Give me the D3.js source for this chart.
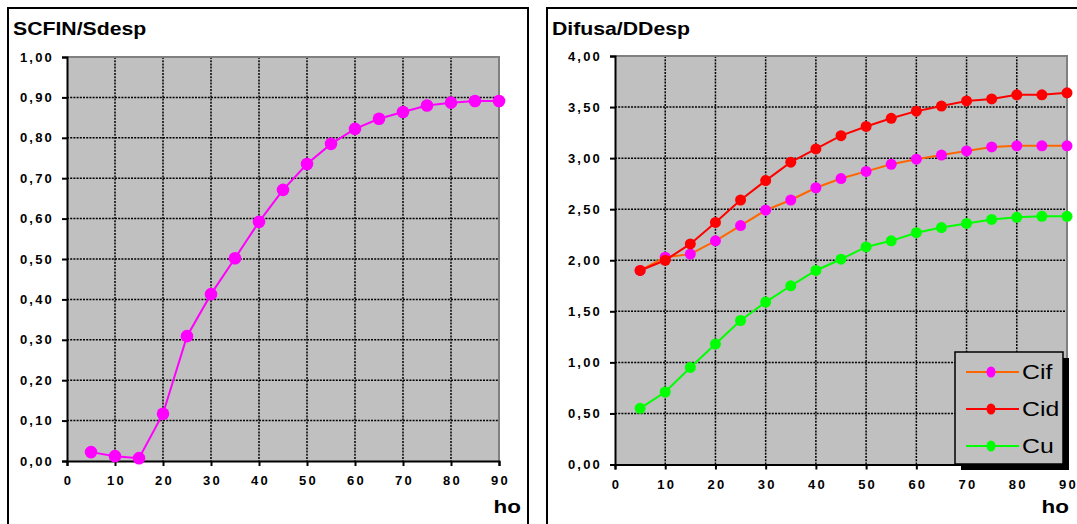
<!DOCTYPE html>
<html>
<head>
<meta charset="utf-8">
<script src="https://cdn.jsdelivr.net/npm/d3@7/dist/d3.min.js"></script>
<style>
  body { margin: 0; background: #fff; }
  svg text { font-family: "Liberation Sans", Arial, sans-serif; }
</style>
</head>
<body>
<div id="chart"></div>
<script>
// x values (ho)
const hoValues = [5, 10, 15, 20, 25, 30, 35, 40, 45, 50, 55, 60, 65, 70, 75, 80, 85, 90];
const xTicks = [0, 10, 20, 30, 40, 50, 60, 70, 80, 90];

// left chart
const scfin = [0.022, 0.012, 0.007, 0.117, 0.309, 0.413, 0.502, 0.592, 0.671, 0.735, 0.785, 0.822, 0.847, 0.864, 0.880, 0.887, 0.891, 0.891];
const leftYTicks = [0, 0.1, 0.2, 0.3, 0.4, 0.5, 0.6, 0.7, 0.8, 0.9, 1.0];

// right chart
const seriesNames = ["Cif", "Cid", "Cu"];
const cif = [1.90, 2.03, 2.06, 2.19, 2.34, 2.49, 2.59, 2.71, 2.80, 2.87, 2.94, 2.99, 3.03, 3.07, 3.11, 3.12, 3.12, 3.12];
const cid = [1.90, 2.00, 2.16, 2.37, 2.59, 2.78, 2.96, 3.09, 3.22, 3.31, 3.39, 3.46, 3.51, 3.56, 3.58, 3.62, 3.62, 3.64];
const cu  = [0.55, 0.71, 0.95, 1.18, 1.41, 1.59, 1.75, 1.90, 2.01, 2.13, 2.19, 2.27, 2.32, 2.36, 2.40, 2.42, 2.43, 2.43];
const rightYTicks = [0, 0.5, 1.0, 1.5, 2.0, 2.5, 3.0, 3.5, 4.0];

const svg = d3.select("#chart").append("svg")
  .attr("width", 1077)
  .attr("height", 524);

const fmt = v => d3.format(".2f")(v).replace(".", ",");

// text stretched a bit horizontally, like the old Excel export
function wideText(g, x, y, size, str, bold, anchor) {
  return g.append("text")
    .attr("transform", `translate(${x},${y}) scale(1.18,1)`)
    .attr("font-size", size)
    .attr("font-weight", bold ? "bold" : "normal")
    .attr("text-anchor", anchor || "start")
    .text(str);
}

function drawPanel(cfg) {
  const g = svg.append("g");

  // panel frame
  g.append("rect")
    .attr("x", cfg.frame[0]).attr("y", 8)
    .attr("width", cfg.frame[1] - cfg.frame[0]).attr("height", 540)
    .attr("fill", "#fff").attr("stroke", "#000").attr("stroke-width", 2);

  wideText(g, cfg.frame[0] + 5, 35, 18, cfg.title, true);

  const x = d3.scaleLinear().domain([0, 90]).range([cfg.left, cfg.right]);
  const y = d3.scaleLinear().domain([0, cfg.yMax]).range([cfg.bottom, cfg.top]);

  // plot area
  g.append("rect")
    .attr("x", cfg.left).attr("y", cfg.top)
    .attr("width", cfg.right - cfg.left).attr("height", cfg.bottom - cfg.top)
    .attr("fill", "#c0c0c0");

  // grid
  g.selectAll(".hgrid").data(cfg.yTicks.slice(1, -1)).enter().append("line")
    .attr("x1", cfg.left).attr("x2", cfg.right)
    .attr("y1", d => y(d)).attr("y2", d => y(d))
    .attr("stroke", "#000").attr("stroke-width", 1.5).attr("stroke-dasharray", "2,1.2");
  g.selectAll(".vgrid").data(xTicks.slice(1, -1)).enter().append("line")
    .attr("y1", cfg.top).attr("y2", cfg.bottom)
    .attr("x1", d => x(d)).attr("x2", d => x(d))
    .attr("stroke", "#000").attr("stroke-width", 1.5).attr("stroke-dasharray", "2,1.2");

  // gray top / right border
  g.append("path")
    .attr("d", `M${cfg.left},${cfg.top}H${cfg.right}V${cfg.bottom}`)
    .attr("fill", "none").attr("stroke", "#808080").attr("stroke-width", 2);

  // axes
  const yAxis = g.append("g")
    .attr("transform", `translate(${cfg.left},0)`)
    .call(d3.axisLeft(y).tickValues(cfg.yTicks).tickFormat(fmt).tickSize(5).tickPadding(10));
  const xAxis = g.append("g")
    .attr("transform", `translate(0,${cfg.bottom})`)
    .call(d3.axisBottom(x).tickValues(xTicks).tickFormat(d3.format("d")).tickSize(5).tickPadding(10));
  [yAxis, xAxis].forEach(a => {
    a.attr("font-size", null);
    a.select(".domain").attr("stroke", "#000").attr("stroke-width", 2);
    a.selectAll(".tick line").attr("stroke", "#000").attr("stroke-width", 2);
    a.selectAll("text")
      .style("font-family", "'Liberation Sans', Arial, sans-serif")
      .style("font-size", "13px").style("font-weight", "bold")
      .style("letter-spacing", "2.2px").attr("fill", "#000");
  });
  yAxis.selectAll("text").attr("dx", 2);
  xAxis.selectAll("text").attr("dx", 1);

  wideText(g, cfg.hoX, 513, 19, "ho", true, "end");

  const line = d3.line().x((d, i) => x(hoValues[i])).y(d => y(d));
  cfg.series.forEach(s => {
    g.append("path")
      .datum(s.values)
      .attr("d", line)
      .attr("fill", "none").attr("stroke", s.line).attr("stroke-width", 2);
    g.selectAll(null).data(s.values).enter().append("circle")
      .attr("cx", (d, i) => x(hoValues[i]))
      .attr("cy", d => y(d))
      .attr("r", s.r)
      .attr("fill", s.marker);
  });
  return g;
}

drawPanel({
  frame: [8, 528], title: "SCFIN/Sdesp",
  left: 67, right: 499, top: 57, bottom: 461,
  yMax: 1.0, yTicks: leftYTicks, hoX: 521,
  series: [{ values: scfin, line: "#ff00ff", marker: "#ff00ff", r: 6.3 }]
});

const right = drawPanel({
  frame: [547, 1090], title: "Difusa/DDesp",
  left: 615, right: 1067, top: 56, bottom: 464.5,
  yMax: 4.0, yTicks: rightYTicks, hoX: 1069,
  series: [
    { values: cif, line: "#ff6600", marker: "#ff00ff", r: 5.5 },
    { values: cid, line: "#ff0000", marker: "#ff0000", r: 5.5 },
    { values: cu,  line: "#00ff00", marker: "#00ff00", r: 5.5 }
  ]
});

// legend
const legendColors = [
  { line: "#ff6600", marker: "#ff00ff" },
  { line: "#ff0000", marker: "#ff0000" },
  { line: "#00ff00", marker: "#00ff00" }
];
const lg = right.append("g").attr("transform", "translate(955,352)");
lg.append("rect").attr("x", 6).attr("y", 6).attr("width", 108).attr("height", 112).attr("fill", "#000");
lg.append("rect").attr("x", 0).attr("y", 0).attr("width", 108).attr("height", 112)
  .attr("fill", "#c0c0c0").attr("stroke", "#000").attr("stroke-width", 1.5);
const ly = d3.scalePoint().domain(seriesNames).range([20, 94]);
seriesNames.forEach((n, i) => {
  lg.append("line").attr("x1", 11).attr("x2", 64)
    .attr("y1", ly(n)).attr("y2", ly(n))
    .attr("stroke", legendColors[i].line).attr("stroke-width", 2);
  lg.append("ellipse").attr("cx", 36).attr("cy", ly(n)).attr("rx", 4.5).attr("ry", 5.5)
    .attr("fill", legendColors[i].marker);
  wideText(lg, 67, ly(n) + 7, 21, n, false);
});
</script>
</body>
</html>
